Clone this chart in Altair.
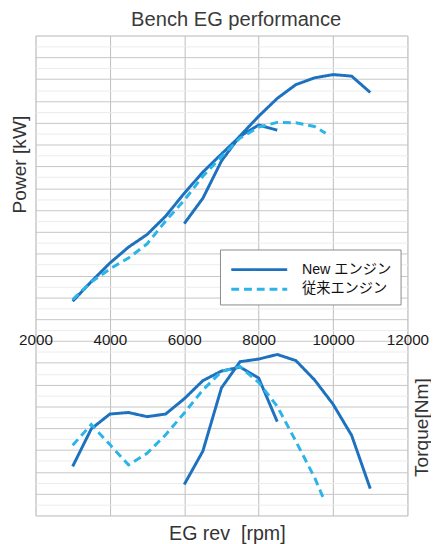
import altair as alt
import pandas as pd

# ---- data (grid units; one unit = one major grid row) ----
series_names = ["New エンジン", "従来エンジン"]

power_new_a_rpm = [3000, 3500, 4000, 4500, 5000, 5500, 6000, 6500, 7000, 7500, 8000, 8500]
power_new_a = [9.82, 10.72, 11.57, 12.3, 12.88, 13.72, 14.77, 15.74, 16.57, 17.38, 17.9, 17.66]

power_new_b_rpm = [6000, 6500, 7000, 7500, 8000, 8500, 9000, 9500, 10000, 10500, 11000]
power_new_b = [13.38, 14.54, 16.25, 17.4, 18.3, 19.12, 19.75, 20.06, 20.21, 20.14, 19.39]

power_old_rpm = [3000, 3500, 4000, 4500, 5000, 5500, 6000, 6500, 7000, 7500, 8000, 8500, 9000, 9500, 9800]
power_old = [9.9, 10.7, 11.3, 11.8, 12.45, 13.5, 14.45, 15.55, 16.45, 17.3, 17.8, 18.02, 18.0, 17.83, 17.52]

torque_new_a_rpm = [3000, 3500, 4000, 4500, 5000, 5500, 6000, 6500, 7000, 7500, 8000, 8500]
torque_new_a = [2.25, 3.97, 4.65, 4.72, 4.53, 4.65, 5.35, 6.18, 6.62, 6.8, 6.3, 4.3]

torque_new_b_rpm = [6000, 6500, 7000, 7500, 8000, 8500, 9000, 9500, 10000, 10500, 11000]
torque_new_b = [1.42, 2.95, 5.85, 7.05, 7.17, 7.38, 7.1, 6.22, 5.1, 3.67, 1.23]

torque_old_rpm = [3000, 3500, 4000, 4500, 5000, 5500, 6000, 6500, 7000, 7500, 8000, 8500, 9000, 9500, 9750]
torque_old = [3.22, 4.17, 3.25, 2.32, 2.85, 3.7, 4.7, 5.75, 6.6, 6.82, 6.1, 5.0, 3.4, 1.75, 0.75]

rpm_ticks = [2000, 4000, 6000, 8000, 10000, 12000]
major_rows = list(range(0, 23))
minor_rows = [r + 0.5 for r in range(0, 22)]

def frame(rpm, vals, series, curve):
    return pd.DataFrame({"rpm": rpm, "v": vals, "series": series, "curve": curve})

power_df = pd.concat([
    frame(power_new_a_rpm, power_new_a, series_names[0], "a"),
    frame(power_new_b_rpm, power_new_b, series_names[0], "b"),
    frame(power_old_rpm, power_old, series_names[1], "old"),
])
torque_df = pd.concat([
    frame(torque_new_a_rpm, torque_new_a, series_names[0], "a"),
    frame(torque_new_b_rpm, torque_new_b, series_names[0], "b"),
    frame(torque_old_rpm, torque_old, series_names[1], "old"),
])

FONT = "Liberation Sans, Arial, Noto Sans CJK JP"
W, H = 379, 489

legend_cfg = dict(title=None, orient="none", legendX=188, legendY=218,
                  symbolType="M-2.85,0H2.85", symbolSize=400, symbolStrokeWidth=3,
                  symbolOffset=19.5, labelOffset=32,
                  labelFont=FONT, labelFontSize=14.5, labelColor="#111",
                  rowPadding=2, padding=9,
                  strokeColor="#8a8a8a", fillColor="white", cornerRadius=0)

color = alt.Color("series:N", scale=alt.Scale(domain=series_names, range=["#1e71be", "#2ab4e8"]),
                  legend=alt.Legend(**legend_cfg))
dash = alt.StrokeDash("series:N", scale=alt.Scale(domain=series_names, range=[[1, 0], [8, 5]]),
                      legend=alt.Legend(**legend_cfg))

x_scale = alt.Scale(domain=[2000, 12000], nice=False, zero=False)

power_layer = alt.Chart(power_df).mark_line(strokeWidth=3).encode(
    x=alt.X("rpm:Q", scale=x_scale,
            axis=alt.Axis(orient="bottom", values=rpm_ticks, grid=True, gridColor="#bdbdbd",
                          labels=False, ticks=False, domain=False, title="EG rev\u00a0 [rpm]",
                          titleFont=FONT, titleFontSize=20, titleFontWeight="normal",
                          titleColor="#333", titlePadding=9, titleX=195, titleAlign="center")),
    y=alt.Y("v:Q", scale=alt.Scale(domain=[0, 22], nice=False, zero=False),
            axis=alt.Axis(orient="left", values=major_rows, grid=True, gridColor="#c6c6c6",
                          labels=False, ticks=False, domain=False, title="Power [kW]",
                          titleFont=FONT, titleFontSize=19.5, titleFontWeight="normal",
                          titleColor="#333", titleAngle=270, titleX=-16, titleY=131,
                          titleAlign="center", titleBaseline="middle")),
    color=color,
    strokeDash=dash,
    detail="curve:N",
)

torque_layer = alt.Chart(torque_df).mark_line(strokeWidth=3).encode(
    x=alt.X("rpm:Q", scale=x_scale,
            axis=alt.Axis(orient="top", values=rpm_ticks, grid=False, labels=True, format="d",
                          ticks=False, tickSize=0, domain=False, title=None, offset=-309.5,
                          labelPadding=0, labelBaseline="middle", labelFlush=False,
                          labelOverlap=False, labelFont=FONT, labelFontSize=15.5,
                          labelColor="#1a1a1a")),
    y=alt.Y("v:Q", scale=alt.Scale(domain=[0, 22], nice=False, zero=False),
            axis=alt.Axis(orient="right", values=minor_rows, grid=True, gridColor="#ececec",
                          labels=False, ticks=False, domain=False, title="Torque[Nm]",
                          titleFont=FONT, titleFontSize=19.5, titleFontWeight="normal",
                          titleColor="#333", titleAngle=270, titleX=14, titleY=399,
                          titleAlign="center", titleBaseline="middle")),
    color=color,
    strokeDash=dash,
    detail="curve:N",
)

chart = alt.layer(torque_layer, power_layer).resolve_scale(y="independent").properties(
    width=W, height=H,
    autosize=alt.AutoSizeParams(type="none"),
    padding={"left": 28, "top": 23, "right": 24, "bottom": 24},
    title=alt.TitleParams("Bench EG performance", font=FONT, fontSize=20.5, fontWeight="normal",
                          color="#3a3a3a", anchor="middle", dx=15, offset=5),
).configure_view(stroke="#9a9a9a", strokeWidth=1.2).configure(background="white")

chart.save("out.html", embed_options={"renderer": "svg", "actions": False})
